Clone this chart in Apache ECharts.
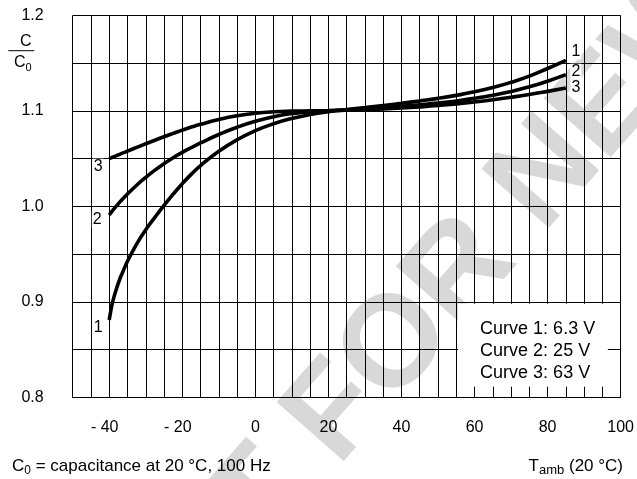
<!DOCTYPE html>
<html>
<head>
<meta charset="utf-8">
<script src="https://cdn.jsdelivr.net/npm/echarts@6/dist/echarts.min.js"></script>
<style>html,body{margin:0;padding:0;background:#fff}#c{width:637px;height:479px}</style>
</head>
<body>
<div id="c"></div>
<script>
// Temperatures (°C)
const temps = [-40, -39.5, -39, -38, -37, -36, -35, -32.5, -30, -27.5, -25, -22.5, -20, -17.5, -15, -10, -5, 0, 5, 10, 15, 20, 25, 30, 35, 40, 45, 50, 55, 60, 65, 70, 75, 80, 85];
// Curve 1: 6.3 V
const curve1 = [0.881, 0.892, 0.901, 0.914, 0.925, 0.934, 0.9425, 0.9605, 0.9755, 0.9885, 1.001, 1.0128, 1.0238, 1.0338, 1.0428, 1.0578, 1.0698, 1.0793, 1.0866, 1.0921, 1.0962, 1.0993, 1.1014, 1.1035, 1.1057, 1.108, 1.1105, 1.1132, 1.1163, 1.12, 1.1245, 1.13, 1.1365, 1.1445, 1.153];
// Curve 2: 25 V
const curve2 = [0.991, 0.9935, 0.996, 1.0005, 1.005, 1.009, 1.013, 1.0222, 1.0305, 1.038, 1.0448, 1.051, 1.0566, 1.0617, 1.0665, 1.0753, 1.0829, 1.0891, 1.0939, 1.0972, 1.0992, 1.1002, 1.1013, 1.1024, 1.1037, 1.105, 1.1065, 1.1082, 1.1105, 1.1132, 1.1165, 1.1205, 1.1253, 1.1312, 1.138];
// Curve 3: 63 V
const curve3 = [1.050, 1.0508, 1.0516, 1.0532, 1.0548, 1.0563, 1.0579, 1.0618, 1.0656, 1.0693, 1.0730, 1.0765, 1.0799, 1.0831, 1.086, 1.0911, 1.0950, 1.0976, 1.0991, 1.0998, 1.1001, 1.1003, 1.1007, 1.1013, 1.1021, 1.1031, 1.1043, 1.1057, 1.1074, 1.1094, 1.1117, 1.1143, 1.1172, 1.1205, 1.124];
const curveNames = ['1', '2', '3'];
const legendLines = ['Curve 1: 6.3 V', 'Curve 2: 25 V', 'Curve 3: 63 V'];
const xTickLabels = [-40, -20, 0, 20, 40, 60, 80, 100];
const yTickLabels = [0.8, 0.9, 1.0, 1.1, 1.2];

const FONT = 'Liberation Sans, Arial, Helvetica, sans-serif';
const chart = echarts.init(document.getElementById('c'), null, {renderer: 'canvas'});

function pairs(ys) { return temps.map((t, i) => [t, ys[i]]); }
const allCurves = [curve1, curve2, curve3];
const startOffsets = [[-11, 8], [-12, 5], [-11, 8]];
const endOffsets = [[10, -9], [10, -3], [10, 0]];

const series = allCurves.map((ys, k) => ({
  type: 'line',
  name: 'Curve ' + curveNames[k],
  data: pairs(ys),
  smooth: 0.5,
  symbol: 'none',
  lineStyle: {color: '#000', width: 3.6},
  z: 3,
  markPoint: {
    symbol: 'rect', symbolSize: 0, silent: true,
    label: {show: true, color: '#000', fontSize: 16, fontFamily: FONT, backgroundColor: '#fff', padding: [0, 1, 0, 1]},
    data: [
      {coord: [temps[0], ys[0]], value: curveNames[k], label: {formatter: curveNames[k], offset: startOffsets[k]}},
      {coord: [temps[temps.length - 1], ys[ys.length - 1]], value: curveNames[k], label: {formatter: curveNames[k], offset: endOffsets[k]}}
    ]
  }
}));

// legend box (white area over grid)
series.push({
  type: 'line', data: [], silent: true, z: 2,
  markArea: {
    silent: true,
    itemStyle: {color: '#fff'},
    label: {show: true, position: [22, 14], align: 'left', verticalAlign: 'top', color: '#000', fontSize: 18, lineHeight: 22, fontFamily: FONT, formatter: legendLines.join('\n')},
    data: [[{coord: [55.5, 0.898]}, {coord: [96.5, 0.811]}]]
  }
});

const sub = (fs) => ({fontSize: fs, fontFamily: FONT, fill: '#000', lineHeight: 11, verticalAlign: 'bottom'});
const main = (fs) => ({fontSize: fs, fontFamily: FONT, fill: '#000', lineHeight: 22, verticalAlign: 'middle'});

chart.setOption({
  animation: false,
  backgroundColor: '#fff',
  grid: {left: 72.7, right: 12, top: 15.5, bottom: 81.7, containLabel: false},
  xAxis: {
    type: 'value', min: -50, max: 100, interval: 5,
    axisLine: {show: true, lineStyle: {color: '#000', width: 1}},
    axisTick: {show: false},
    splitLine: {show: true, lineStyle: {color: '#000', width: 1}},
    axisLabel: {
      margin: 22, color: '#000', fontSize: 16, fontFamily: FONT,
      formatter: function (v) {
        if (xTickLabels.indexOf(Math.round(v)) < 0 || Math.abs(v - Math.round(v)) > 1e-6) return '';
        if (v < 0) return '{n|- ' + Math.abs(Math.round(v)) + '}';
        return String(Math.round(v));
      },
      rich: {n: {fontSize: 16, fontFamily: FONT, color: '#000', padding: [0, 9, 0, 0]}}
    }
  },
  yAxis: {
    type: 'value', min: 0.8, max: 1.2, interval: 0.05,
    axisLine: {show: true, lineStyle: {color: '#000', width: 1}},
    axisTick: {show: false},
    splitLine: {show: true, lineStyle: {color: '#000', width: 1}},
    axisLabel: {
      margin: 29, color: '#000', fontSize: 16, fontFamily: FONT,
      formatter: function (v) {
        for (const t of yTickLabels) { if (Math.abs(v - t) < 1e-6) return t.toFixed(1); }
        return '';
      }
    }
  },
  graphic: [
    {type: 'text', z: -5, x: 155, y: 720, rotation: 0.85,
      style: {text: 'NOT FOR NEW DESIGN', fontSize: 130, fontWeight: 'bold', fontFamily: FONT, fill: '#d8d8d8', textAlign: 'left', textVerticalAlign: 'bottom'}},
    {type: 'text', x: 25.8, y: 41.5, style: {text: 'C', fontSize: 16, fontFamily: FONT, fill: '#000', textAlign: 'center', textVerticalAlign: 'middle'}},
    {type: 'line', shape: {x1: 8.3, y1: 50.7, x2: 34.3, y2: 50.7}, style: {stroke: '#000', lineWidth: 1}},
    {type: 'text', x: 14, y: 62.5, style: {rich: {m: main(16), s: sub(11)}, text: '{m|C}{s|0}', textAlign: 'left', textVerticalAlign: 'middle'}},
    {type: 'text', x: 12, y: 466, style: {rich: {m: main(17), s: sub(12)}, text: '{m|C}{s|0}{m| = capacitance at 20 °C, 100 Hz}', textAlign: 'left', textVerticalAlign: 'middle'}},
    {type: 'text', x: 623, y: 466, style: {rich: {m: main(17), s: sub(13)}, text: '{m|T}{s|amb}{m| (20 °C)}', textAlign: 'right', textVerticalAlign: 'middle'}}
  ],
  series: series
});
</script>
</body>
</html>
